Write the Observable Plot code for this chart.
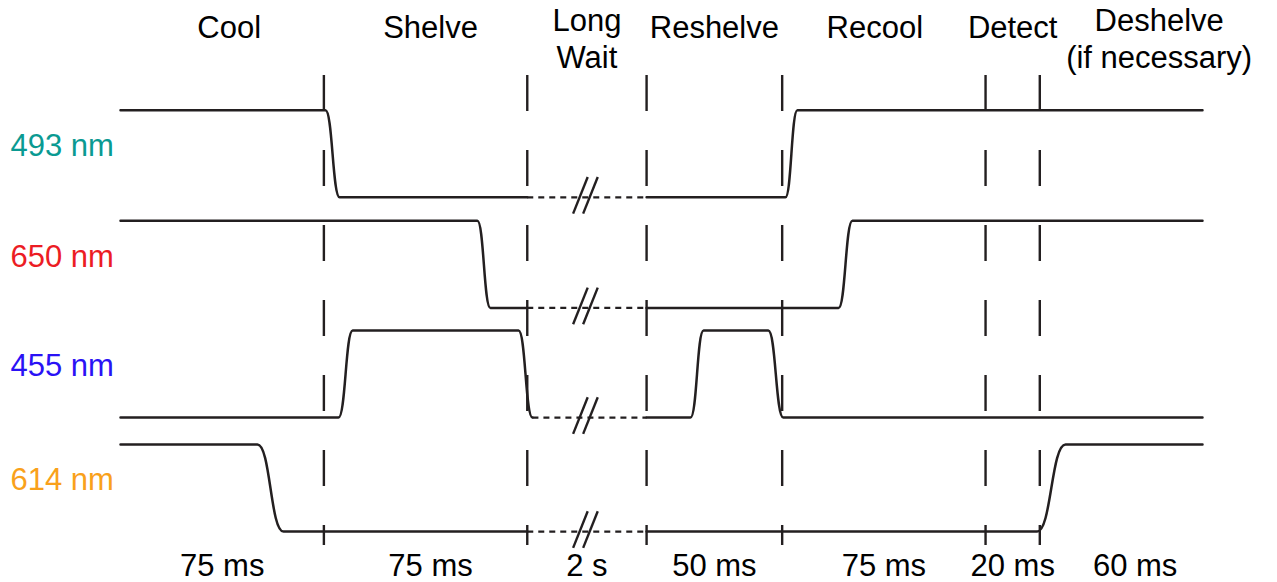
<!DOCTYPE html>
<html>
<head>
<meta charset="utf-8">
<script src="https://cdn.jsdelivr.net/npm/d3@7"></script>
<script src="https://cdn.jsdelivr.net/npm/@observablehq/plot@0.6"></script>
<style>
  html, body { margin: 0; padding: 0; background: #fff; }
</style>
</head>
<body>
<div id="chart"></div>
<script>
// Sequence phases, their durations, and the drawn width of each phase (ms).
// The 2 s wait is drawn compressed, as a 44 ms-wide break.
const phases = ["Cool", "Shelve", "Long\nWait", "Reshelve", "Recool", "Detect", "Deshelve\n(if necessary)"];
const durationLabels = ["75 ms", "75 ms", "2 s", "50 ms", "75 ms", "20 ms", "60 ms"];
const spans = [75, 75, 44, 50, 75, 20, 60];
const waitPhase = 2;

// Lasers, top to bottom, and their label colours
const lasers = ["493 nm", "650 nm", "455 nm", "614 nm"];
const laserColors = ["#0a9a92", "#ec1c24", "#2a12f5", "#f9a11b"];

// Switching knots for each laser: [time (ms), state 1 = on / 0 = off]
const wave493 = [[0, 1], [75.6, 1], [80.8, 0], [150, 0], [194, 0], [245.2, 0], [249.6, 1], [399, 1]];
const wave650 = [[0, 1], [131.6, 1], [136.4, 0], [150, 0], [194, 0], [264.8, 0], [269.9, 1], [399, 1]];
const wave455 = [[0, 0], [80.4, 0], [85.6, 1], [146.8, 1], [151.9, 0], [194, 0], [210.2, 0], [215, 1], [238.9, 1], [244.4, 0], [399, 0]];
const wave614 = [[0, 1], [50.5, 1], [60.1, 0], [150, 0], [194, 0], [338, 0], [348.5, 1], [399, 1]];
const waves = [wave493, wave650, wave455, wave614];

// Where the "//" break marks sit inside the wait
const breakTimes = [169.6, 173.3];

// ---- layout ----
const W = 1277, H = 582;
const xRange = [120, 1202];
const yDomain = [-0.16, 5.24], yRange = [545, 75];
const rowBase = [3.84, 2.57, 1.31, 0];        // vertical offset of each laser row
const topNudge = [7, 5, 0, 0, -9, 0, 38];      // px
const bottomNudge = [0, 5, 0, 0, 0, 0, 14];    // px
const ink = "#231f20";
const font = "'Liberation Sans', Arial, Helvetica, sans-serif";

const bounds = [0];
spans.forEach(s => bounds.push(bounds[bounds.length - 1] + s));
const tEnd = bounds[bounds.length - 1];
const waitStart = bounds[waitPhase], waitEnd = bounds[waitPhase + 1];
const pxPerMs = (xRange[1] - xRange[0]) / tEnd;
const pxPerLevel = (yRange[0] - yRange[1]) / (yDomain[1] - yDomain[0]);

// Split each waveform into solid pieces and the dotted span across the wait
const solid = [], dotted = [], breaks = [];
waves.forEach((w, i) => {
  const k = w.findIndex((p, j) => j < w.length - 1 && p[0] >= waitStart && w[j + 1][0] <= waitEnd);
  const pieces = [w.slice(0, k + 1), w.slice(k + 1)];
  pieces.forEach((pc, j) => pc.forEach(([t, s]) =>
    solid.push({laser: lasers[i], piece: `${i}-${j}`, t, y: rowBase[i] + s})));
  const yLow = rowBase[i] + w[k][1];
  dotted.push({t1: w[k][0], t2: w[k + 1][0], y: yLow});
  const hx = 7.3 / pxPerMs, hy = 18.3 / pxPerLevel, lift = 2 / pxPerLevel;
  breakTimes.forEach(t => breaks.push({x1: t - hx, x2: t + hx, y1: yLow + lift - hy, y2: yLow + lift + hy}));
});

const phaseRows = phases.map((p, i) => ({
  label: p,
  duration: durationLabels[i],
  top: (bounds[i] + bounds[i + 1]) / 2 + topNudge[i] / pxPerMs,
  bottom: (bounds[i] + bounds[i + 1]) / 2 + bottomNudge[i] / pxPerMs,
  twoLine: p.includes("\n")
}));

const laserRows = lasers.map((l, i) => ({label: l, color: laserColors[i], y: rowBase[i] + 0.5}));

const textStyle = {fontFamily: font, fontSize: 31, lineHeight: 1.2};

const chart = Plot.plot({
  width: W,
  height: H,
  margin: 0,
  x: {domain: [0, tEnd], range: xRange, axis: null},
  y: {domain: yDomain, range: yRange, axis: null},
  marks: [
    // phase boundaries
    Plot.ruleX(bounds.slice(1, -1), {
      y1: () => yDomain[1], y2: () => yDomain[0],
      stroke: ink, strokeWidth: 2.4, strokeDasharray: "36,39"
    }),
    // waveforms
    Plot.line(solid, {
      x: "t", y: "y", z: "piece", curve: "bump-x",
      stroke: ink, strokeWidth: 2.5
    }),
    Plot.link(dotted, {
      x1: "t1", x2: "t2", y1: "y", y2: "y",
      stroke: ink, strokeWidth: 2.2, strokeDasharray: "6,5"
    }),
    Plot.link(breaks, {
      x1: "x1", x2: "x2", y1: "y1", y2: "y2",
      stroke: ink, strokeWidth: 2.4
    }),
    // phase names
    Plot.text(phaseRows.filter(d => !d.twoLine), {
      x: "top", text: "label", frameAnchor: "top", lineAnchor: "top", dy: 11,
      fill: "#000", ...textStyle
    }),
    Plot.text(phaseRows.filter(d => d.twoLine), {
      x: "top", text: "label", frameAnchor: "top", lineAnchor: "top", dy: 4,
      fill: "#000", ...textStyle
    }),
    // durations
    Plot.text(phaseRows, {
      x: "bottom", text: "duration", frameAnchor: "bottom", lineAnchor: "bottom", dy: -7,
      fill: "#000", ...textStyle
    }),
    // laser labels
    Plot.text(laserRows, {
      y: "y", text: "label", fill: "color", frameAnchor: "left", textAnchor: "start",
      dx: 10, dy: -9.5, ...textStyle
    })
  ]
});

document.getElementById("chart").append(chart);
</script>
</body>
</html>
